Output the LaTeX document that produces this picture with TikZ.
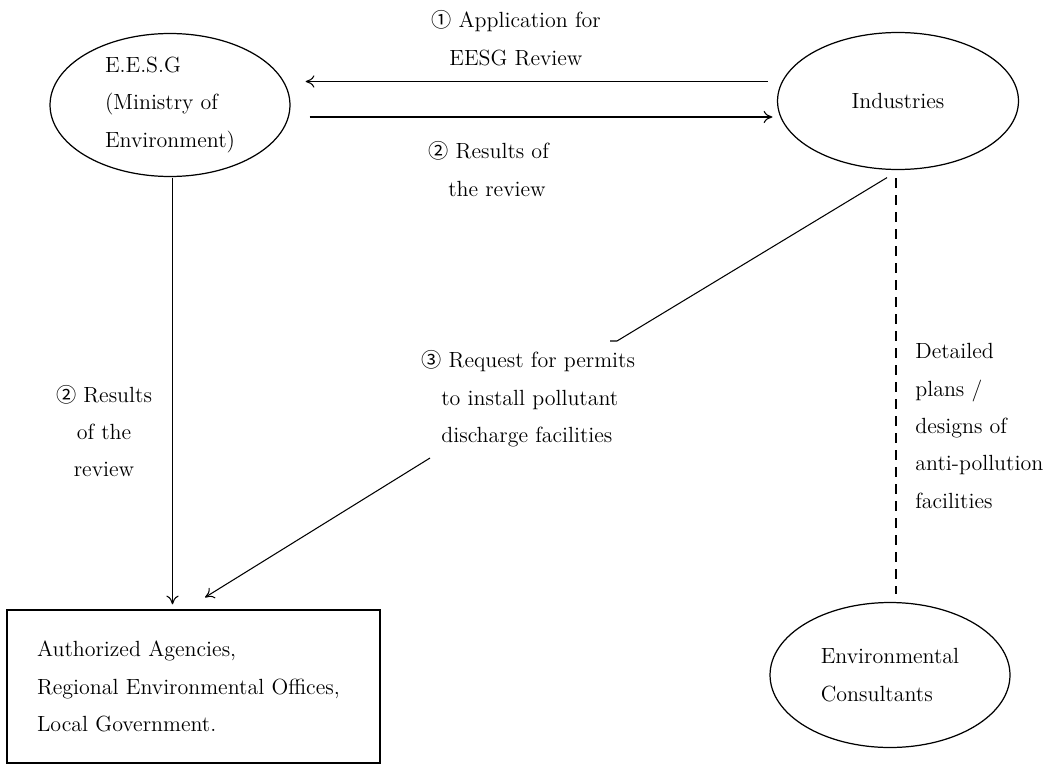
\documentclass[tikz,border=0pt]{standalone}
\usepackage{fontspec}
\newfontfamily\circfont{Noto Sans CJK SC}
\newcommand{\numc}[1]{{\circfont\fontsize{11.5}{21.3}\selectfont #1}}
\usetikzlibrary{shapes.geometric,arrows.meta,calc}

\begin{document}
\begin{tikzpicture}[
    x=0.02cm,
    y=-0.02cm,
    font=\fontsize{12.5}{21.3}\selectfont,
    agency/.style={
        ellipse,
        draw,
        line width=0.7pt,
        inner sep=0pt,
        align=left
    },
    office/.style={
        rectangle,
        draw,
        line width=0.7pt,
        align=left,
        text width=6.26cm,
        inner xsep=0.6cm,
        minimum width=7.46cm,
        minimum height=3.06cm
    },
    note/.style={
        align=left,
        inner sep=0pt
    },
    flow/.style={
        -{To[length=5pt,width=7pt]},
        line width=0.6pt
    },
    plan/.style={
        line width=0.6pt,
        dash pattern=on 0.2cm off 0.14cm
    }
]

    \useasboundingbox (0,0) rectangle (1047,764);

    \node[agency, minimum width=4.8cm, minimum height=2.86cm] (eesg) at (170,105) {E.E.S.G\\(Ministry of\\Environment)};
    \node[agency, minimum width=4.82cm, minimum height=2.74cm] (ind) at (898,101) {Industries};
    \node[agency, minimum width=4.8cm, minimum height=2.9cm] (env) at (890,675) {Environmental\\Consultants};
    \node[office] (gov) at (193.5,686.5) {Authorized Agencies,\\Regional Environmental Offices,\\Local Government.};

    \node[note, align=center] (apply) at (516,38) {\numc{①} Application for\\EESG Review};
    \node[note, anchor=west] (result) at (428,169) {\numc{②} Results of\\\hspace*{0.4cm}the review};
    \node[note, align=center] (resultdown) at (104,431) {\numc{②} Results\\of the\\review};
    \node[note, anchor=west] (req) at (421,399) {\numc{③} Request for permits\\\hspace*{0.4cm}to install pollutant\\\hspace*{0.4cm}discharge facilities};
    \node[note, anchor=west] (detail) at (915,426) {Detailed\\plans /\\designs of\\anti-pollution\\facilities};

    \coordinate (cut1) at (617,341);
    \coordinate (cut2) at (430,458);

    \draw[flow] ($(ind.west)+(-9,-19.5)$) -- ($(eesg.east)+(15,-23.5)$);
    \draw[flow] ($(eesg.east)+(19,12)$) -- ($(ind.west)+(-4.5,16)$);
    \draw[flow] ($(eesg.south)+(2.5,0.5)$) -- ($(gov.north)+(-21,-5)$);
    \draw[line width=0.6pt] ($(ind.south)+(-11,7.5)$) -- (cut1) -- ++(-7,0);
    \draw[flow] (cut2) -- ($(gov.north)+(11.5,-12)$);
    \draw[plan] ($(ind.south)+(-2,8)$) -- ($(env.north)+(6,-7.5)$);

\end{tikzpicture}
\end{document}
